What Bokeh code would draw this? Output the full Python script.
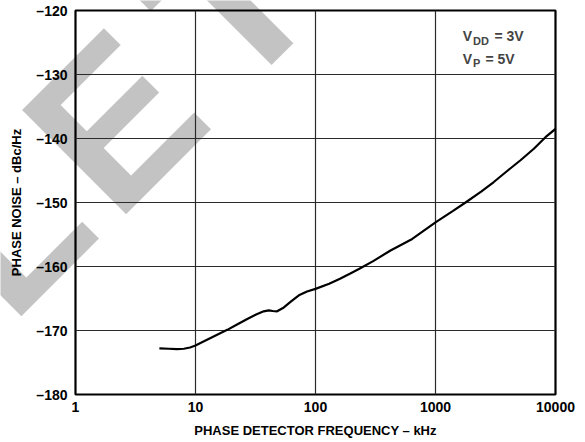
import numpy as np
from bokeh.plotting import figure
from bokeh.layouts import column
from bokeh.models import Label, FixedTicker, Range1d
from bokeh.core.properties import value
from bokeh.embed import file_html
from bokeh.resources import INLINE

# ---- data ----
freq_khz = [5, 6, 7, 8, 9, 10, 12, 15, 18.4, 22, 27, 32, 37, 40.8, 44, 47.9,
            54.5, 63, 72.7, 85, 100, 130, 160, 195, 230, 300, 422, 640, 1000,
            1400, 1780, 2400, 3060, 4000, 5110, 6600, 8250, 10000]
phase_noise = [-172.8, -172.85, -172.9, -172.85, -172.65, -172.35, -171.6, -170.7,
               -169.9, -169.1, -168.2, -167.5, -167.0, -166.85, -166.95, -167.0,
               -166.4, -165.4, -164.5, -163.9, -163.5, -162.7, -161.9, -161.1,
               -160.4, -159.2, -157.5, -155.7, -153.1, -151.3, -150.0, -148.3,
               -146.8, -145.0, -143.4, -141.6, -139.8, -138.5]
x_ticks = [1, 10, 100, 1000, 10000]
y_ticks = [-180, -170, -160, -150, -140, -130, -120]
x_tick_labels = ["1", "10", "100", "1000", "10000"]
y_tick_labels = ["\u2013180", "\u2013170", "\u2013160", "\u2013150", "\u2013140", "\u2013130", "\u2013120"]
watermark_letters = ["L", "E", "T"]

FONT = "Liberation Sans"
W, H = 585, 442
L_B, R_B, T_B, B_B = 75, 30, 10, 48
FW, FH = W - L_B - R_B, H - T_B - B_B

# ---- watermark layer (page-sized, drawn first, underneath the chart) ----
wm = figure(width=W, height=H, output_backend="svg", toolbar_location=None,
            x_range=Range1d(0, W), y_range=Range1d(H, 0),
            x_axis_location=None, y_axis_location=None,
            min_border=0, min_border_left=0, min_border_right=0,
            min_border_top=0, min_border_bottom=0, frame_align=False)
wm.grid.visible = False
wm.outline_line_color = None
wm.background_fill_color = "white"
wm.border_fill_color = "white"
wm_pos_x = [-42, 62.7, 183]
wm_pos_y = [273, 171, 47]
wm.text(x=wm_pos_x, y=wm_pos_y, text=watermark_letters, angle=np.pi / 4,
        text_font=value(FONT), text_font_style="bold", text_font_size="214px",
        text_color="black", text_alpha=0.235, text_align="left", text_baseline="alphabetic")

# ---- main chart (transparent, stacked over the watermark layer) ----
p = figure(width=W, height=H, x_axis_type="log", output_backend="svg",
           toolbar_location=None, x_range=Range1d(1, 10000), y_range=Range1d(-180, -120),
           min_border_left=L_B, min_border_right=R_B, min_border_top=T_B, min_border_bottom=B_B,
           frame_align=False)
p.styles = {"margin-top": f"-{H}px", "position": "relative", "z-index": "1"}

def px2data(sx, sy):
    fx, fy = sx - L_B, sy - T_B
    lx = (fx / FW) * 4.0
    y = -120 - (fy / FH) * 60
    return 10 ** lx, y

p.line(freq_khz, phase_noise, line_color="black", line_width=2.2)

for g in (p.xgrid, p.ygrid):
    g.grid_line_color = "#2a2a2a"
    g.grid_line_width = 1.2
p.xgrid.ticker = FixedTicker(ticks=x_ticks)
p.ygrid.ticker = FixedTicker(ticks=y_ticks)
p.xaxis.ticker = FixedTicker(ticks=x_ticks, minor_ticks=[])
p.yaxis.ticker = FixedTicker(ticks=y_ticks, minor_ticks=[])
p.xaxis.major_label_overrides = {t: s for t, s in zip(x_ticks, x_tick_labels)}
p.yaxis.major_label_overrides = {t: s for t, s in zip(y_ticks, y_tick_labels)}

for ax in (p.xaxis, p.yaxis):
    ax.axis_line_color = None
    ax.major_tick_line_color = None
    ax.minor_tick_line_color = None
    ax.major_tick_out = 0
    ax.major_tick_in = 0
    ax.major_label_text_font = FONT
    ax.major_label_text_font_style = "bold"
    ax.major_label_text_font_size = "14px"
    ax.major_label_text_color = "black"
    ax.axis_label_text_font = FONT
    ax.axis_label_text_font_style = "bold"
    ax.axis_label_text_font_size = "13px"
    ax.axis_label_text_color = "black"

p.xaxis.axis_label = "PHASE DETECTOR FREQUENCY \u2013 kHz"
p.yaxis.axis_label = "PHASE NOISE \u2013 dBc/Hz"
p.xaxis.major_label_standoff = 7
p.yaxis.major_label_standoff = 8
p.xaxis.axis_label_standoff = 8
p.yaxis.axis_label_standoff = 9

def txt(sx, sy, s, size):
    xd, yd = px2data(sx, sy)
    p.add_layout(Label(x=xd, y=yd, text=s, text_font=FONT, text_font_style="bold",
                       text_font_size=size, text_align="left", text_baseline="alphabetic"))

txt(462.3, 35.7, "V", "14px")
txt(472.5, 40.0, "DD", "11px")
txt(494.0, 35.7, "= 3V", "14px")
txt(462.3, 58.3, "V", "14px")
txt(472.5, 62.0, "P", "11px")
txt(485.0, 58.3, "= 5V", "14px")

p.outline_line_color = "black"
p.outline_line_width = 2.2
p.background_fill_color = None
p.border_fill_color = None

layout = column(wm, p)
open("out.html", "w").write(file_html(layout, INLINE))
